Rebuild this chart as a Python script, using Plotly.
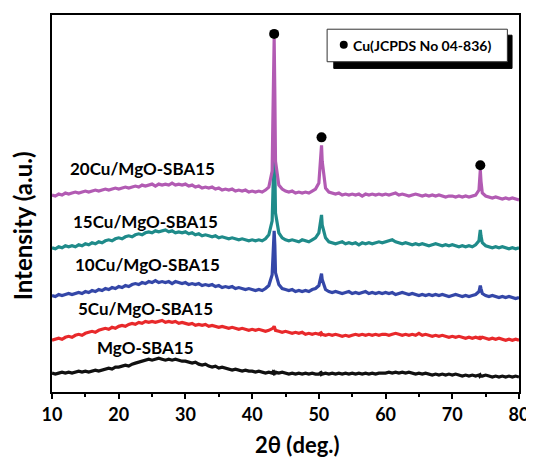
#!/usr/bin/env python3
"""XRD patterns of Cu/MgO-SBA15 catalysts (stacked, offset intensities)."""

import plotly.graph_objects as go

# 2-theta sampling (deg.), 0.5 deg steps with extra points across the Cu peaks
TWO_THETA = (
    [10.0, 10.5, 11.0, 11.5, 12.0, 12.5, 13.0, 13.5, 14.0, 14.5, 15.0, 15.5, 16.0, 16.5, 17.0, 17.5, 18.0, 18.5, 19.0, 19.5]
    + [20.0, 20.5, 21.0, 21.5, 22.0, 22.5, 23.0, 23.5, 24.0, 24.5, 25.0, 25.5, 26.0, 26.5, 27.0, 27.5, 28.0, 28.5, 29.0, 29.5]
    + [30.0, 30.5, 31.0, 31.5, 32.0, 32.5, 33.0, 33.5, 34.0, 34.5, 35.0, 35.5, 36.0, 36.5, 37.0, 37.5, 38.0, 38.5, 39.0, 39.5]
    + [40.0, 40.5, 41.0, 41.5, 42.0, 42.5, 43.0, 43.1, 43.2, 43.3, 43.4, 43.5, 44.0, 44.5, 45.0, 45.5, 46.0, 46.5, 47.0, 47.5, 48.0, 48.5, 49.0, 49.5]
    + [50.0, 50.2, 50.3, 50.4, 50.5, 51.0, 51.5, 52.0, 52.5, 53.0, 53.5, 54.0, 54.5, 55.0, 55.5, 56.0, 56.5, 57.0, 57.5, 58.0, 58.5, 59.0, 59.5]
    + [60.0, 60.5, 61.0, 61.5, 62.0, 62.5, 63.0, 63.5, 64.0, 64.5, 65.0, 65.5, 66.0, 66.5, 67.0, 67.5, 68.0, 68.5, 69.0, 69.5]
    + [70.0, 70.5, 71.0, 71.5, 72.0, 72.5, 73.0, 73.5, 74.0, 74.1, 74.2, 74.3, 74.5, 75.0, 75.5, 76.0, 76.5, 77.0, 77.5, 78.0, 78.5, 79.0, 79.5, 80.0]
)

# intensities (a.u., already offset as in the figure)
I_MGO = (
    [19, 18, 19, 20, 19, 20, 19, 20, 21, 20, 21, 20, 21, 22, 21, 22, 23, 24, 23, 25]
    + [25, 26, 27, 26, 28, 29, 30, 31, 32, 33, 32, 33, 34, 33, 32, 33, 32, 33, 32, 31]
    + [31, 30, 29, 30, 28, 27, 28, 26, 25, 26, 24, 25, 24, 23, 22, 23, 22, 21, 22, 21]
    + [21, 20, 21, 20, 19, 20, 19, 20, 19, 20, 19, 20, 19, 20, 19, 18, 19, 18, 19, 18, 19, 18, 19, 18]
    + [18, 19, 18, 19, 18, 19, 18, 19, 18, 19, 18, 19, 18, 19, 18, 19, 18, 19, 18, 19, 18, 19, 19]
    + [19, 20, 19, 20, 19, 20, 19, 20, 19, 18, 19, 18, 19, 18, 17, 18, 17, 18, 17, 18]
    + [17, 18, 17, 16, 17, 16, 17, 16, 17, 16, 17, 16, 16, 17, 16, 15, 16, 15, 16, 15, 16, 15, 16, 15]
)
I_5CU = (
    [52, 53, 54, 53, 55, 56, 55, 57, 58, 57, 59, 60, 61, 60, 62, 63, 64, 63, 65, 64]
    + [66, 67, 66, 68, 69, 68, 70, 69, 71, 70, 71, 70, 71, 72, 70, 71, 70, 71, 69, 70]
    + [69, 68, 69, 67, 68, 67, 68, 66, 67, 66, 65, 66, 65, 64, 65, 64, 63, 64, 63, 62]
    + [63, 62, 63, 62, 61, 62, 63, 64, 65, 66, 64, 62, 61, 60, 61, 60, 59, 60, 59, 60, 58, 59, 58, 59]
    + [58, 59, 58, 59, 58, 57, 58, 57, 58, 57, 56, 57, 56, 57, 58, 57, 58, 57, 58, 57, 58, 57, 58]
    + [58, 57, 58, 59, 58, 57, 58, 57, 58, 57, 59, 57, 58, 57, 56, 57, 56, 57, 56, 55]
    + [56, 55, 56, 55, 54, 55, 54, 55, 54, 55, 55, 54, 55, 54, 53, 54, 53, 54, 53, 52, 53, 52, 53, 52]
)
I_10CU = (
    [97, 96, 98, 97, 98, 99, 98, 99, 100, 99, 101, 100, 102, 101, 103, 102, 104, 103, 105, 104]
    + [106, 105, 107, 106, 108, 109, 108, 110, 109, 111, 110, 112, 110, 111, 110, 111, 109, 111, 110, 109]
    + [110, 108, 109, 108, 109, 107, 108, 107, 108, 106, 107, 105, 106, 105, 106, 104, 105, 104, 103, 104]
    + [103, 102, 103, 102, 104, 107, 118, 140, 158, 162, 148, 120, 108, 104, 103, 102, 103, 101, 102, 101, 102, 101, 103, 104]
    + [107, 114, 118, 119, 113, 103, 101, 100, 101, 100, 99, 100, 101, 99, 100, 99, 100, 101, 99, 100, 99, 100, 99]
    + [100, 99, 100, 98, 99, 100, 99, 98, 99, 98, 97, 98, 97, 98, 97, 98, 97, 98, 97, 96]
    + [97, 98, 97, 96, 97, 96, 97, 98, 101, 104, 107, 104, 99, 97, 96, 97, 96, 95, 96, 95, 96, 95, 94, 95]
)
I_15CU = (
    [145, 144, 146, 145, 147, 146, 147, 146, 148, 147, 149, 148, 150, 149, 151, 150, 152, 153, 152, 154]
    + [155, 154, 156, 157, 156, 158, 159, 158, 160, 161, 160, 162, 161, 162, 163, 161, 162, 160, 161, 160]
    + [161, 159, 160, 158, 159, 157, 158, 157, 156, 157, 155, 156, 155, 154, 155, 154, 153, 154, 153, 152]
    + [153, 152, 153, 152, 154, 158, 172, 205, 240, 246, 225, 180, 160, 155, 153, 152, 153, 152, 151, 153, 152, 151, 153, 155]
    + [160, 170, 177, 178, 168, 155, 151, 150, 149, 150, 151, 149, 150, 149, 150, 148, 150, 149, 150, 149, 150, 151, 150]
    + [151, 152, 153, 151, 150, 149, 150, 149, 148, 149, 148, 149, 148, 147, 148, 149, 148, 147, 148, 147]
    + [148, 147, 146, 147, 146, 147, 146, 148, 152, 158, 163, 157, 150, 147, 146, 145, 146, 145, 146, 145, 144, 145, 144, 145]
)
I_20CU = (
    [198, 197, 199, 198, 200, 199, 200, 201, 200, 201, 202, 201, 202, 203, 202, 203, 204, 203, 204, 205]
    + [204, 205, 206, 205, 206, 207, 206, 208, 207, 208, 209, 207, 209, 208, 209, 208, 210, 208, 209, 208]
    + [209, 207, 208, 206, 207, 205, 206, 205, 206, 204, 205, 203, 204, 203, 204, 202, 203, 202, 203, 201]
    + [202, 201, 202, 201, 203, 206, 222, 270, 330, 355, 300, 232, 208, 204, 202, 201, 202, 200, 201, 200, 201, 200, 202, 204]
    + [210, 228, 244, 248, 232, 205, 201, 200, 199, 200, 198, 199, 198, 199, 198, 199, 197, 199, 198, 199, 198, 199, 198]
    + [199, 198, 199, 200, 198, 199, 198, 197, 198, 199, 198, 197, 198, 197, 198, 197, 198, 197, 196, 197]
    + [197, 196, 197, 196, 197, 196, 197, 198, 203, 214, 223, 212, 200, 197, 196, 195, 196, 195, 194, 195, 194, 195, 194, 193]
)

SAMPLES = ["MgO-SBA15", "5Cu/MgO-SBA15", "10Cu/MgO-SBA15", "15Cu/MgO-SBA15", "20Cu/MgO-SBA15"]
SERIES = [I_MGO, I_5CU, I_10CU, I_15CU, I_20CU]
COLORS = ["#111111", "#e8292b", "#3447a8", "#1f8b8a", "#b25bb3"]

# where each sample name sits (left edge, deg / a.u.)
LABEL_X = [16.4, 13.65, 13.1, 12.85, 12.4]
LABEL_Y = [45, 84, 128, 171, 225]

# Cu reflections marked with dots
CU_PEAK_X = [43.3, 50.4, 74.2]
CU_MARK_Y = [360, 256, 228]

FONT = "Lato"

fig = go.Figure()
for name, vals, col in zip(SAMPLES, SERIES, COLORS):
    fig.add_trace(go.Scatter(x=TWO_THETA, y=vals, mode="lines", name=name,
                             line=dict(color=col, width=3.2), showlegend=False))

fig.add_trace(go.Scatter(x=CU_PEAK_X, y=CU_MARK_Y, mode="markers", showlegend=False,
                         marker=dict(color="black", size=10)))

annotations = []
for name, lx, ly in zip(SAMPLES, LABEL_X, LABEL_Y):
    annotations.append(dict(x=lx, y=ly, xref="x", yref="y", text=f"<b>{name}</b>",
                            xanchor="left", yanchor="middle", showarrow=False,
                            font=dict(family=FONT, size=17, color="black")))

# axis titles
annotations.append(dict(x=0.526, y=-0.140, xref="paper", yref="paper", text="<b>2θ (deg.)</b>",
                        xanchor="center", yanchor="middle", showarrow=False,
                        font=dict(family=FONT, size=22, color="black")))
annotations.append(dict(x=-0.064, y=0.44, xref="paper", yref="paper", text="<b>Intensity (a.u.)</b>",
                        textangle=-90, xanchor="center", yanchor="middle", showarrow=False,
                        font=dict(family=FONT, size=24, color="black")))

# legend text
annotations.append(dict(x=0.6395, y=0.9195, xref="paper", yref="paper", text="<b>Cu(JCPDS No 04-836)</b>",
                        xanchor="left", yanchor="middle", showarrow=False,
                        font=dict(family=FONT, size=14, color="black")))

shapes = [
    # shadow then box of the hand-made legend
    dict(type="rect", xref="paper", yref="paper", x0=0.6034, x1=0.9851, y0=0.8583, y1=0.9464,
         fillcolor="black", line=dict(color="black", width=1)),
    dict(type="rect", xref="paper", yref="paper", x0=0.5891, x1=0.9751, y0=0.876, y1=0.9623,
         fillcolor="white", line=dict(color="#333333", width=1)),
    dict(type="circle", xref="paper", yref="paper", x0=0.6162, x1=0.6333, y0=0.9103, y1=0.9314,
         fillcolor="black", line=dict(color="black", width=0)),
]

# the page body adds an 8 px margin, so the figure is 8 px smaller than the window
fig.update_layout(
    width=526,
    height=453,
    margin=dict(l=44, r=13, t=5, b=69),
    paper_bgcolor="white",
    plot_bgcolor="white",
    annotations=annotations,
    shapes=shapes,
    xaxis=dict(
        range=[10, 80], tickmode="linear", tick0=10, dtick=10,
        ticks="outside", ticklen=5, tickwidth=1.5, tickcolor="black",
        minor=dict(dtick=5, ticks="outside", ticklen=3, tickwidth=1.5, tickcolor="black"),
        showline=True, linecolor="black", linewidth=2, mirror=True,
        showgrid=False, zeroline=False,
        tickfont=dict(family=FONT, size=18, color="black", weight="bold"),
    ),
    yaxis=dict(
        range=[0, 379], showticklabels=False, ticks="",
        showline=True, linecolor="black", linewidth=2, mirror=True,
        showgrid=False, zeroline=False,
    ),
)

fig.write_html("out.html")
